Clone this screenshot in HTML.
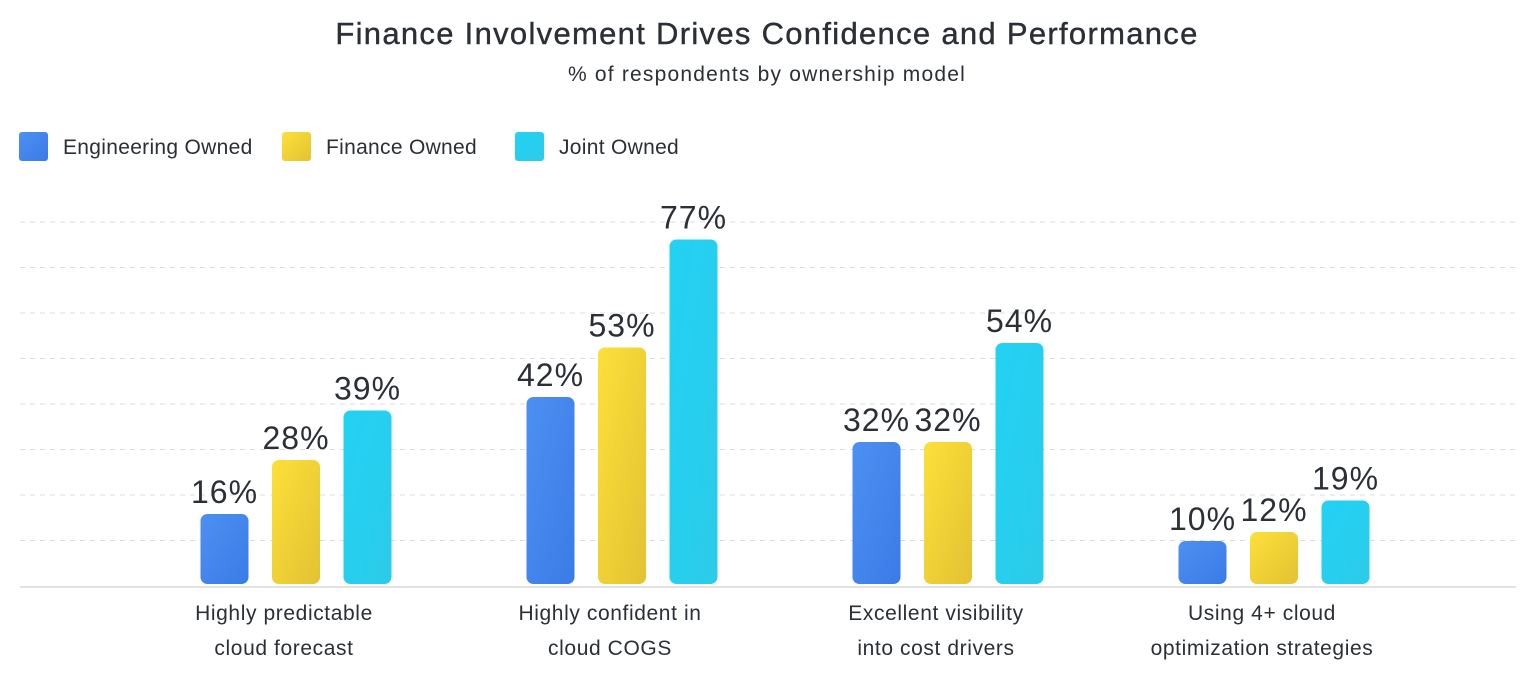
<!DOCTYPE html>
<html><head><meta charset="utf-8"><style>
body{margin:0;width:1534px;height:675px;background:#fff;font-family:"Liberation Sans",sans-serif;overflow:hidden}
</style></head><body>
<svg id="c" width="1534" height="675">
<defs>
<linearGradient id="gb" x1="0" y1="0" x2="1" y2="1"><stop offset="0" stop-color="#4d90f2"/><stop offset="1" stop-color="#3a7be6"/></linearGradient>
<linearGradient id="gy" x1="0" y1="0" x2="1" y2="1"><stop offset="0" stop-color="#fde03a"/><stop offset="1" stop-color="#e2c232"/></linearGradient>
<linearGradient id="gc" x1="0" y1="0" x2="1" y2="1"><stop offset="0" stop-color="#22d2f4"/><stop offset="1" stop-color="#2ccbe8"/></linearGradient>
</defs>
<text x="767" y="44" text-anchor="middle" font-size="31" letter-spacing="1.3" fill="#2b2f36" stroke="#2b2f36" stroke-width="0.4">Finance Involvement Drives Confidence and Performance</text>
<text x="767" y="81" text-anchor="middle" font-size="21" letter-spacing="1.2" fill="#2b2f36">% of respondents by ownership model</text>
<g>
<rect x="19" y="132" width="29" height="29" rx="3" fill="url(#gb)"/>
<text x="63" y="154" font-size="21" letter-spacing="0.3" fill="#2b2f36">Engineering Owned</text>
<rect x="282" y="132" width="29" height="29" rx="3" fill="url(#gy)"/>
<text x="326" y="154" font-size="21" letter-spacing="0.3" fill="#2b2f36">Finance Owned</text>
<rect x="515" y="132" width="29" height="29" rx="3" fill="url(#gc)"/>
<text x="559" y="154" font-size="21" letter-spacing="0.3" fill="#2b2f36">Joint Owned</text>
</g>
<g id="grid"></g><g id="bars"></g><g id="xl"></g>
</svg>
<script>
const categories=[["Highly predictable","cloud forecast"],["Highly confident in","cloud COGS"],["Excellent visibility","into cost drivers"],["Using 4+ cloud","optimization strategies"]];
const engineering=[16,42,32,10];
const finance=[28,53,32,12];
const joint=[39,77,54,19];
const gridTicks=[10,20,30,40,50,60,70,80];
const NS="http://www.w3.org/2000/svg";
const base=586, ppu=4.5;
function y(v){return base-v*ppu;}
function gy(v){return base-v*4.55;}
function xc(i){return 296+i*326;}
function mk(t,a,p){const e=document.createElementNS(NS,t);for(const k in a)e.setAttribute(k,a[k]);p.appendChild(e);return e;}
const g=document.getElementById('grid');
gridTicks.forEach(t=>{const l=mk('line',{x1:20,x2:1516,y1:gy(t),y2:gy(t),stroke:'#dcdcdc','stroke-dasharray':'5,5','stroke-width':1},g);

});
const bl=mk('line',{x1:20,x2:1516,y1:base+1,y2:base+1,stroke:'#d8d8d8','stroke-width':1.5},g);


const series=[[engineering,'url(#gb)','engineering'],[finance,'url(#gy)','finance'],[joint,'url(#gc)','joint']];
const b=document.getElementById('bars');
categories.forEach((c,i)=>{series.forEach((s,j)=>{const v=s[0][i];const cx=xc(i)+(j-1)*71.5;
const r=mk('rect',{x:cx-24,y:y(v),width:48,height:v*ppu-2,rx:7,fill:s[1]},b);


const t=mk('text',{x:cx,y:y(v)-11,'text-anchor':'middle','font-size':32,'letter-spacing':1,fill:'#2b2f36'},b);t.textContent=v+'%';

});
const x=document.getElementById('xl');
c.forEach((ln,k)=>{const t=mk('text',{x:xc(i)-12,y:620+k*35,'text-anchor':'middle','font-size':21,'letter-spacing':0.6,fill:'#2b2f36'},x);t.textContent=ln;

});});
</script>
</body></html>
